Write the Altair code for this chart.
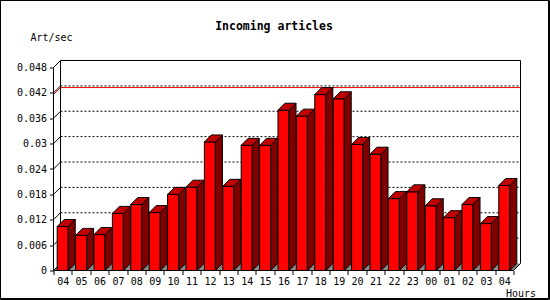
import json
import altair as alt
import pandas as pd

# ---- data ----
hours = ["04", "05", "06", "07", "08", "09", "10", "11", "12", "13", "14", "15",
         "16", "17", "18", "19", "20", "21", "22", "23", "00", "01", "02", "03", "04"]
rates = [0.0104, 0.0083, 0.0085, 0.0135, 0.0156, 0.0137, 0.0180, 0.0197, 0.0304,
         0.0199, 0.0296, 0.0296, 0.0379, 0.0365, 0.0416, 0.0406, 0.0298, 0.0275,
         0.0170, 0.0186, 0.0153, 0.0125, 0.0156, 0.0111, 0.0201]
y_ticks = [round(k * 0.006, 3) for k in range(9)]
y_top_tick = 0.048

# ---- layout / 3D styling constants ----
W, H = 467, 210
N = len(rates)
DEPTH_PX = 7
SLOT_PX = 460 / N
D = DEPTH_PX / SLOT_PX                    # depth in x units
YMAX = y_top_tick / (1 - DEPTH_PX / H)    # y domain top
DY = YMAX * DEPTH_PX / H                  # depth in y units
XMAX = N + D
A, BW = 0.2, 0.6                          # bar front offset / width in slot units

xs = alt.Scale(domain=[0, XMAX], nice=False, zero=False)
ys = alt.Scale(domain=[0, YMAX], nice=False, zero=False)
FONT = "DejaVu Sans Mono"

label_expr = "datum.value < %d ? %s[datum.value] : ''" % (N, json.dumps(hours))

XAXIS = alt.Axis(values=list(range(N + 1)), labelExpr=label_expr,
                 labelOffset=SLOT_PX / 2, tickSize=4, domain=False, grid=False,
                 labelFlush=False, labelOverlap=False, labelPadding=2,
                 labelFont=FONT, labelFontSize=10, labelColor="black",
                 tickColor="black", titleFont=FONT, titleFontSize=10,
                 titleFontWeight="normal", titleColor="black",
                 titleX=452, titleY=22.5, titleAlign="left",
                 titleBaseline="middle", titleAnchor="start")
YAXIS = alt.Axis(values=y_ticks, format=".3~f", tickSize=4, domain=False,
                 grid=False, labelFlush=False, labelOverlap=False,
                 labelPadding=3, labelFont=FONT, labelFontSize=10,
                 labelColor="black", tickColor="black", titleFont=FONT,
                 titleFontSize=10, titleFontWeight="normal",
                 titleColor="black", titleAngle=0, titleX=-23.5,
                 titleY=-23.5, titleAlign="left", titleBaseline="middle")


def X(f):
    return alt.X(f, type="quantitative", scale=xs, axis=XAXIS, title="Hours")


def Y(f):
    return alt.Y(f, type="quantitative", scale=ys, axis=YAXIS, title="Art/sec")


# tables built from the data arrays
front = pd.DataFrame({"i": range(N), "v": rates})
front["x0"] = front["i"] + A
front["x1"] = front["i"] + A + BW

side_rows, top_rows = [], []
for i, v in enumerate(rates):
    side_rows += [dict(b=i, x=i + A + BW, y=0, y2=v),
                  dict(b=i, x=i + A + BW + D, y=DY, y2=v + DY)]
    top_rows += [dict(b=i, x=i + A, y=v, y2=v),
                 dict(b=i, x=i + A + D, y=v, y2=v + DY),
                 dict(b=i, x=i + A + BW, y=v, y2=v + DY),
                 dict(b=i, x=i + A + BW + D, y=v + DY, y2=v + DY)]
side = pd.DataFrame(side_rows)
top = pd.DataFrame(top_rows)

floor = pd.DataFrame([dict(x=0, y=0, y2=0), dict(x=D, y=0, y2=DY),
                      dict(x=N, y=0, y2=DY), dict(x=XMAX, y=DY, y2=DY)])

frame = pd.DataFrame([
    dict(x=0, y=0, x2=N, y2=0),
    dict(x=0, y=0, x2=0, y2=y_top_tick),
    dict(x=0, y=y_top_tick, x2=D, y2=YMAX),
    dict(x=D, y=YMAX, x2=XMAX, y2=YMAX),
    dict(x=XMAX, y=YMAX, x2=XMAX, y2=DY),
    dict(x=N, y=0, x2=XMAX, y2=DY),
    dict(x=D, y=DY, x2=D, y2=YMAX),
    dict(x=0, y=0, x2=D, y2=DY),
])
grid_vals = [t for t in y_ticks if 0 < t < y_top_tick]
grid = pd.DataFrame([dict(x=D, y=t + DY, x2=XMAX, y2=t + DY) for t in grid_vals])
grid_diag = pd.DataFrame([dict(x=0, y=t, x2=D, y2=t + DY) for t in grid_vals])
vmax = max(rates)
maxline = pd.DataFrame([dict(x=D, y=vmax + DY, x2=XMAX, y2=vmax + DY),
                        dict(x=0, y=vmax, x2=D, y2=vmax + DY)])


def rules(df, **kw):
    return alt.Chart(df).mark_rule(**kw).encode(
        x=X("x"), x2="x2:Q", y=Y("y"), y2="y2:Q")


floor_l = alt.Chart(floor).mark_area(color="#888888", interpolate="linear").encode(
    x=X("x"), y=Y("y"), y2="y2:Q")

grid_l = rules(grid, color="black", strokeWidth=1, strokeDash=[2, 2])
gdiag_l = rules(grid_diag, color="black", strokeWidth=1)
max_l = rules(maxline, color="#ee0000", strokeWidth=1)
frame_l = rules(frame, color="black", strokeWidth=1)

front_l = alt.Chart(front).mark_rect(color="#ff0000", stroke="black", strokeWidth=1).encode(
    x=X("x0"), x2="x1:Q", y=Y("v"), y2=alt.datum(0))

side_l = alt.Chart(side).mark_area(color="#800000", stroke="black", strokeWidth=1,
                                   interpolate="linear").encode(
    x=X("x"), y=Y("y"), y2="y2:Q", detail="b:N")

top_l = alt.Chart(top).mark_area(color="#c00000", stroke="black", strokeWidth=1,
                                 interpolate="linear").encode(
    x=X("x"), y=Y("y"), y2="y2:Q", detail="b:N")

one = pd.DataFrame({"k": [0]})
title_l = alt.Chart(one).mark_text(text="Incoming articles", font=FONT, fontSize=11.5,
                                   fontWeight="bold", color="black", align="center",
                                   baseline="middle").encode(
    x=alt.value(274 - 53.5), y=alt.value(27 - 60.5))

border_l = alt.Chart(one).mark_rect(fill=None, stroke="black", strokeWidth=1).encode(
    x=alt.value(-53), x2=alt.value(548 - 53.5 + 0.5),
    y=alt.value(-60), y2=alt.value(298 - 60.5 + 0.5))
border2_l = alt.Chart(one).mark_rect(fill=None, stroke="black", strokeWidth=1).encode(
    x=alt.value(-53), x2=alt.value(549 - 53.5 + 0.5),
    y=alt.value(-60), y2=alt.value(299 - 60.5 + 0.5))

chart = alt.layer(
    floor_l, grid_l, gdiag_l, max_l, frame_l, front_l, side_l, top_l,
    title_l, border_l, border2_l
).properties(
    width=W, height=H,
    autosize=alt.AutoSizeParams(type="none"),
    padding={"left": 53.5, "top": 60.5, "right": 550 - 53.5 - W, "bottom": 300 - 60.5 - H},
    background="white",
).configure_view(stroke=None)

chart.save("out.html", embed_options={"renderer": "svg", "actions": False})
